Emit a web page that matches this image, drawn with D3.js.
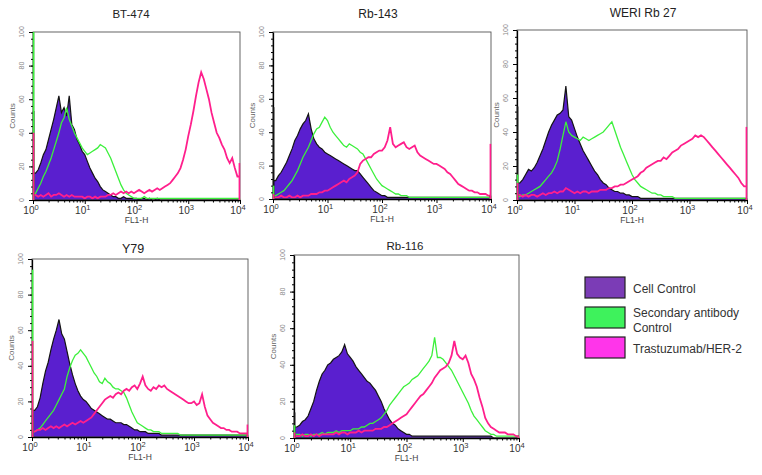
<!DOCTYPE html>
<html><head><meta charset="utf-8">
<script src="https://cdn.jsdelivr.net/npm/d3@7"></script>
<style>body{margin:0;background:#fff;} svg{display:block;font-family:"Liberation Sans",Arial,sans-serif;}</style>
</head><body><svg id="c" width="762" height="475"></svg>
<script>
// ---------- data ----------
const panelTitles = ["BT-474", "Rb-143", "WERI Rb 27", "Y79", "Rb-116"];
const legendLines = [["Cell Control"], ["Secondary antibody", "Control"], ["Trastuzumab/HER-2"]];
const xTickValues = [1, 10, 100, 1000, 10000];
const xTickExponents = ["0", "1", "2", "3", "4"];
const yTickValues = [0, 20, 40, 60, 80, 100];
const xAxisLabel = "FL1-H";
const yAxisLabel = "Counts";
// histogram channels: 81 channels, evenly spaced on log scale, 10^0 .. 10^4 (0.05 decade each)
// first and last channels are the off-scale pile-up bins drawn at the axis edges
const channelCount = 81;

const bt474Cell = [53,16,18,22,27,30,36,42,48,55, 62,52,55,50,62,45,42,36,33,29, 27,23,19,16,13,11,8,6,5,4, 3,2,2,1,1,2,1,1,1,1, 1,0,1,1,0,1,0,0,1,0, 0,0,0,0,0,0,0,0,0,0, 0,0,0,0,0,0,0,0,0,0, 0,0,0,0,0,0,0,0,0,0, 0];
const bt474Secondary = [100,4,7,10,14,17,21,25,30,35, 40,46,49,55,48,44,40,37,34,31, 29,27,28,29,30,31,33,32,31,28, 25,21,17,13,9,6,4,3,2,1, 1,1,1,2,1,1,1,1,1,1, 1,1,1,1,1,1,1,1,1,1, 1,1,1,1,1,1,1,1,1,1, 1,1,1,1,1,1,1,1,1,1, 1];
const bt474Her2 = [40,3,2,3,2,3,4,2,3,3, 4,3,2,3,2,3,2,2,2,2, 1,2,2,1,2,1,2,2,2,3, 3,4,3,4,5,4,5,4,5,4, 5,6,5,4,5,6,5,6,7,6, 7,8,9,10,12,14,16,19,24,30, 38,45,53,62,70,76,72,66,60,52, 46,40,37,33,30,25,22,25,19,14, 22];

const rb143Cell = [55,11,14,16,19,22,26,30,35,38, 42,45,47,51,42,36,33,31,30,28, 27,26,25,24,23,22,21,20,19,18, 17,17,15,13,11,9,7,5,4,3, 2,2,1,1,1,1,1,1,1,1, 1,1,1,1,1,1,1,1,1,1, 1,1,1,1,1,1,1,1,1,1, 1,1,1,1,1,1,1,1,1,1, 2];
const rb143Secondary = [8,2,3,4,5,7,9,11,14,17, 21,25,28,31,35,39,42,43,46,49, 47,43,40,38,36,34,32,31,33,32, 31,30,28,27,24,21,18,15,12,10, 8,7,6,5,4,3,3,2,2,2, 1,1,1,1,1,1,1,1,1,1, 1,1,1,1,1,1,1,1,1,1, 1,1,1,1,1,1,1,1,1,1, 1];
const rb143Her2 = [3,1,1,2,1,1,2,1,1,2, 1,2,2,2,3,3,3,4,4,5, 5,6,7,8,9,10,11,10,12,13, 14,16,21,23,24,25,25,27,28,29, 29,31,35,43,33,31,32,33,34,31, 30,31,32,28,26,25,24,23,22,21, 21,20,19,18,16,15,13,11,9,8, 7,6,5,5,4,4,3,3,3,2, 33];

const weriCell = [55,10,12,15,18,17,19,22,26,30, 35,40,44,47,50,51,53,67,49,47, 42,37,33,29,26,23,20,17,15,12, 10,9,7,6,5,5,4,4,3,3, 2,2,2,1,1,1,1,1,1,1, 1,1,1,1,1,1,1,1,1,1, 1,1,1,1,1,1,1,1,1,1, 1,1,1,1,1,1,1,1,1,1, 1];
const weriSecondary = [15,2,3,3,4,5,6,7,8,10, 12,14,16,19,23,30,38,46,40,38, 37,36,35,37,36,35,36,37,38,39, 40,42,44,46,41,36,31,27,23,19, 15,12,10,8,7,6,5,4,4,3, 3,2,2,2,2,1,1,1,1,1, 1,1,1,1,1,1,1,1,1,1, 1,1,1,1,1,1,1,1,1,1, 1];
const weriHer2 = [10,3,2,3,2,3,3,2,3,4, 3,4,4,5,4,5,5,7,6,5, 4,5,4,5,5,4,5,5,5,6, 6,6,7,7,8,8,9,9,10,11, 12,13,14,16,17,19,20,21,22,23, 23,25,24,26,28,29,30,32,33,34, 35,36,38,37,38,37,35,33,31,29, 27,25,23,21,19,17,15,13,10,8, 43];

const y79Cell = [15,15,17,22,30,37,42,49,55,60, 66,58,55,48,41,35,30,26,23,21, 20,18,16,15,14,13,12,11,10,10, 9,8,8,8,7,7,6,5,4,4, 3,3,3,2,2,2,2,2,1,1, 1,1,1,1,1,1,1,1,1,1, 1,1,1,1,1,1,1,1,1,1, 1,1,1,1,1,1,1,1,1,1, 1];
const y79Secondary = [94,3,4,5,7,9,11,13,15,18, 21,24,27,34,39,43,46,47,49,47, 45,42,39,36,34,31,30,33,31,30, 28,27,27,26,25,22,18,14,11,8, 7,6,5,4,4,3,3,3,2,2, 2,2,2,2,2,1,1,1,1,1, 1,1,1,1,1,1,1,1,1,1, 1,1,1,1,1,1,1,1,1,1, 1];
const y79Her2 = [54,3,4,4,5,4,5,6,5,6, 5,6,7,6,7,8,7,8,9,8, 9,10,11,13,15,17,19,21,22,23, 22,24,25,24,26,27,26,28,29,27, 30,34,29,27,26,28,27,29,28,29, 27,26,25,24,23,22,21,20,19,19, 20,18,19,24,17,12,10,8,7,6, 5,5,4,4,3,3,3,2,2,2, 7];

const rb116Cell = [14,6,7,9,10,12,16,20,26,31, 35,37,40,41,43,44,45,47,51,46, 44,42,39,37,35,33,31,30,28,26, 23,20,16,13,10,8,7,5,4,3, 2,2,1,1,1,1,1,1,1,1, 1,1,1,1,1,1,1,1,1,1, 1,1,1,1,1,1,1,1,1,1, 1,0,0,0,0,0,0,0,0,0, 0];
const rb116Secondary = [7,2,2,1,2,2,1,2,2,2, 3,2,3,3,3,4,3,4,4,4, 4,5,5,5,6,6,7,8,8,9, 10,11,13,15,18,20,22,24,26,28, 29,30,32,33,34,36,38,40,42,45, 55,44,44,43,41,39,37,34,31,28, 25,22,19,15,12,10,8,6,4,3, 2,2,1,1,1,1,1,1,1,1, 1];
const rb116Her2 = [3,1,1,2,1,1,2,1,2,1, 2,2,2,2,2,3,2,3,3,2, 3,3,3,4,3,4,4,4,4,5, 5,5,6,6,7,8,9,10,11,12, 13,15,17,19,21,23,24,26,28,30, 33,35,37,38,39,41,45,53,46,44, 43,45,41,35,32,28,22,17,11,8, 6,5,4,3,3,3,2,2,2,1, 1];

// ---------- layout & style ----------
const layout = [
  {l: 33,  r: 240, t: 32,  b: 200, tx: 131, ty: 18,  ts: 11.5},
  {l: 273, r: 491, t: 32,  b: 199, tx: 378, ty: 18,  ts: 12},
  {l: 517, r: 747, t: 30,  b: 200, tx: 643, ty: 17,  ts: 12},
  {l: 32,  r: 248, t: 259, b: 437, tx: 133, ty: 253, ts: 12.5},
  {l: 294, r: 519, t: 255, b: 438, tx: 405, ty: 250, ts: 11.5}
];
const colors = {cellFill: "#5a1fcf", cellLine: "#141414", sec: "#3cf03c", her: "#ff1f8c"};
const legendColors = ["#7b3cb6", "#3ef25c", "#ff35ea"];

const panels = [
  [bt474Cell, bt474Secondary, bt474Her2],
  [rb143Cell, rb143Secondary, rb143Her2],
  [weriCell, weriSecondary, weriHer2],
  [y79Cell, y79Secondary, y79Her2],
  [rb116Cell, rb116Secondary, rb116Her2]
];

const svg = d3.select("#c");
const chan = d3.range(channelCount).map(i => Math.pow(10, i * 4 / (channelCount - 1)));
const minorX = [];
[1, 10, 100, 1000].forEach(dec => { for (let m = 2; m <= 9; m++) minorX.push(dec * m); });
const minorY = d3.range(0, 101, 4);
const n = channelCount;

panels.forEach((series, k) => {
  const L = layout[k];
  const g = svg.append("g");
  g.append("rect").attr("x", L.l - 20).attr("y", L.t - 32).attr("width", L.r - L.l + 30)
    .attr("height", L.b - L.t + 60).attr("fill", "#fff");
  const x = d3.scaleLog().domain([1, 1e4]).range([L.l, L.r]);
  const y = d3.scaleLinear().domain([0, 100]).range([L.b, L.t]);
  const yc = v => y(Math.min(v, 100));

  const clipId = "clip" + k;
  g.append("clipPath").attr("id", clipId).append("rect")
    .attr("x", L.l).attr("y", L.t - 1).attr("width", L.r - L.l).attr("height", L.b - L.t + 1);
  const plot = g.append("g").attr("clip-path", `url(#${clipId})`);

  // body of the histogram: edge channels take the neighbouring channel's height; the
  // off-scale pile-up values are drawn as vertical lines on the axis edges
  const body = s => s.map((v, i) => i === 0 ? s[1] : (i === n - 1 ? s[n - 2] : v));
  const area = d3.area().x((d, i) => x(chan[i])).y0(y(0)).y1(yc).curve(d3.curveLinear);
  const line = d3.line().x((d, i) => x(chan[i])).y(yc).curve(d3.curveLinear);

  plot.append("path").datum(body(series[0])).attr("d", area).attr("fill", colors.cellFill);
  plot.append("path").datum(body(series[0])).attr("d", line).attr("fill", "none")
    .attr("stroke", colors.cellLine).attr("stroke-width", 1.2);
  plot.append("path").datum(body(series[1])).attr("d", line).attr("fill", "none")
    .attr("stroke", colors.sec).attr("stroke-width", 1.3);
  plot.append("path").datum(body(series[2])).attr("d", line).attr("fill", "none")
    .attr("stroke", colors.her).attr("stroke-width", 1.8);

  // frame
  g.append("rect").attr("x", L.l).attr("y", L.t).attr("width", L.r - L.l).attr("height", L.b - L.t)
    .attr("fill", "none").attr("stroke", "#555").attr("stroke-width", 0.9);

  // x axis
  const xa = g.append("g").attr("transform", `translate(0,${L.b})`)
    .call(d3.axisBottom(x).tickValues(xTickValues).tickFormat("").tickSize(4).tickSizeOuter(0));
  xa.select(".domain").attr("stroke", "#000").attr("stroke-width", 1.3);
  const xm = g.append("g").attr("transform", `translate(0,${L.b})`)
    .call(d3.axisBottom(x).tickValues(minorX).tickFormat("").tickSize(2.5));
  xm.select(".domain").remove();

  xTickValues.forEach((v, i) => {
    const t = g.append("text").attr("x", x(v) - 2).attr("y", L.b + 14).attr("text-anchor", "middle")
      .attr("font-size", 10).attr("fill", "#333").text("10");
    t.append("tspan").attr("dy", -4).attr("font-size", 7.5).text(xTickExponents[i]);
  });
  g.append("text").attr("x", (L.l + L.r) / 2).attr("y", L.b + 23).attr("text-anchor", "middle")
    .attr("font-size", 8.5).attr("fill", "#444").text(xAxisLabel);

  // y axis
  const ya = g.append("g").attr("transform", `translate(${L.l},0)`)
    .call(d3.axisLeft(y).tickValues(yTickValues).tickFormat("").tickSize(4).tickSizeOuter(0));
  ya.select(".domain").attr("stroke", "#000").attr("stroke-width", 1.3);
  const ym = g.append("g").attr("transform", `translate(${L.l},0)`)
    .call(d3.axisLeft(y).tickValues(minorY).tickFormat("").tickSize(2));
  ym.select(".domain").remove();

  // edge pile-up channels drawn over the axis lines
  const edge = g.append("g");
  [[series[0], colors.cellLine], [series[1], colors.sec], [series[2], colors.her]].forEach(([s, color]) => {
    [0, n - 1].forEach(i => {
      const xx = x(chan[i]) + (i === 0 ? 0.6 : -0.6);
      edge.append("line").attr("x1", xx).attr("x2", xx)
        .attr("y1", y(0)).attr("y2", yc(s[i])).attr("stroke", color).attr("stroke-width", 1.6);
    });
  });

  yTickValues.forEach(v => {
    g.append("text").attr("transform", `translate(${L.l - 9},${y(v)}) rotate(-90)`)
      .attr("text-anchor", "middle").attr("font-size", 7).attr("fill", "#888").text(v);
  });
  g.append("text").attr("transform", `translate(${L.l - 18},${(L.t + L.b) / 2}) rotate(-90)`)
    .attr("text-anchor", "middle").attr("font-size", 8).attr("fill", "#666").text(yAxisLabel);

  // title
  g.append("text").attr("x", L.tx).attr("y", L.ty).attr("text-anchor", "middle")
    .attr("font-size", L.ts).attr("fill", "#222").text(panelTitles[k]);
});

// legend
const legendBoxY = [277, 307, 337];
const lg = svg.append("g");
legendLines.forEach((lines, i) => {
  lg.append("rect").attr("x", 585).attr("y", legendBoxY[i]).attr("width", 40).attr("height", 21)
    .attr("fill", legendColors[i]).attr("stroke", "#222").attr("stroke-width", 1.2);
  const t = lg.append("text").attr("x", 633).attr("font-size", 12).attr("fill", "#333");
  if (lines.length === 1) {
    t.attr("y", legendBoxY[i] + 16).text(lines[0]);
  } else {
    t.attr("y", legendBoxY[i] + 10).text(lines[0]);
    lg.append("text").attr("x", 633).attr("y", legendBoxY[i] + 25).attr("font-size", 12)
      .attr("fill", "#333").text(lines[1]);
  }
});
</script>
</body></html>
